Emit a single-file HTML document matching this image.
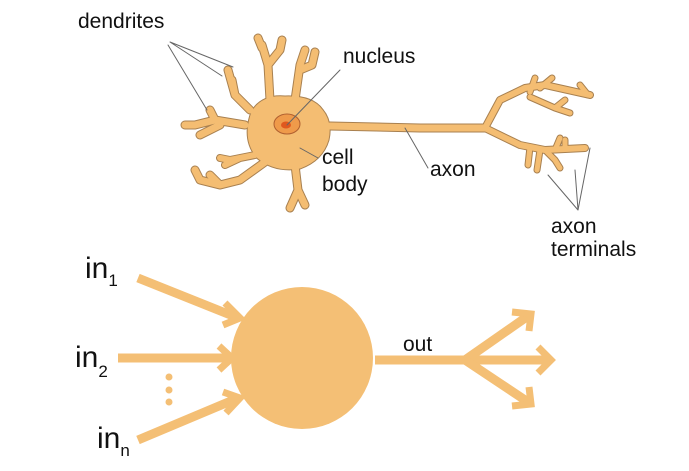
<!DOCTYPE html>
<html><head><style>
html,body{margin:0;padding:0;background:#fff;width:689px;height:471px;overflow:hidden}
text{font-family:"Liberation Sans",sans-serif;fill:#111}
</style></head><body>
<svg width="689" height="471" viewBox="0 0 689 471" xmlns="http://www.w3.org/2000/svg">
<g stroke-linecap="round" stroke-linejoin="round" fill="none">
 <g stroke="#a88050">
  <path d="M330,126 L420,128 L485,128" stroke-width="9"/>
  <path d="M485,128 L500,100 L525,88 L545,85 L590,95" stroke-width="8"/>
  <path d="M530,92 L535,78 M540,88 L552,78 M530,97 L555,108 L570,113 M555,108 L565,100 M588,95 L580,85" stroke-width="7"/>
  <path d="M485,128 L520,145 L545,150 L585,148" stroke-width="8"/>
  <path d="M530,147 L528,165 M545,150 L555,160 L560,168 M555,150 L560,138 M565,148 L565,140 M540,150 L537,170" stroke-width="7"/>
  <path d="M270,100 L268,65 L262,45 M268,65 L280,50 L282,40 M262,48 L258,38" stroke-width="9"/>
  <path d="M295,100 L300,65 L305,50 M300,70 L312,65 L315,52" stroke-width="9"/>
  <path d="M250,110 L235,95 L228,70 M235,95 L232,80" stroke-width="9"/>
  <path d="M245,125 L215,120 L195,125 L185,125 M215,120 L210,110 M220,125 L200,135" stroke-width="9"/>
  <path d="M255,155 L230,160 L220,158 M240,158 L225,165" stroke-width="8"/>
  <path d="M265,162 L240,180 L220,185 L200,180 M220,185 L210,175 M200,180 L195,170" stroke-width="9"/>
  <path d="M295,165 L298,190 L290,208 M298,190 L305,205" stroke-width="9"/>
  <path d="M252,112 Q262,95 285,97 Q312,96 322,110 Q332,122 328,140 Q322,160 300,168 Q275,172 258,158 Q242,140 252,112 Z" stroke-width="3" fill="#a88050"/>
 </g>
 <g stroke="#f4bd72">
  <path d="M330,126 L420,128 L485,128" stroke-width="7"/>
  <path d="M485,128 L500,100 L525,88 L545,85 L590,95" stroke-width="6"/>
  <path d="M530,92 L535,78 M540,88 L552,78 M530,97 L555,108 L570,113 M555,108 L565,100 M588,95 L580,85" stroke-width="5"/>
  <path d="M485,128 L520,145 L545,150 L585,148" stroke-width="6"/>
  <path d="M530,147 L528,165 M545,150 L555,160 L560,168 M555,150 L560,138 M565,148 L565,140 M540,150 L537,170" stroke-width="5"/>
  <path d="M270,100 L268,65 L262,45 M268,65 L280,50 L282,40 M262,48 L258,38" stroke-width="7"/>
  <path d="M295,100 L300,65 L305,50 M300,70 L312,65 L315,52" stroke-width="7"/>
  <path d="M250,110 L235,95 L228,70 M235,95 L232,80" stroke-width="7"/>
  <path d="M245,125 L215,120 L195,125 L185,125 M215,120 L210,110 M220,125 L200,135" stroke-width="7"/>
  <path d="M255,155 L230,160 L220,158 M240,158 L225,165" stroke-width="6"/>
  <path d="M265,162 L240,180 L220,185 L200,180 M220,185 L210,175 M200,180 L195,170" stroke-width="7"/>
  <path d="M295,165 L298,190 L290,208 M298,190 L305,205" stroke-width="7"/>
  <path d="M252,112 Q262,95 285,97 Q312,96 322,110 Q332,122 328,140 Q322,160 300,168 Q275,172 258,158 Q242,140 252,112 Z" stroke-width="1" fill="#f4bd72"/>
 </g>
 <ellipse cx="287" cy="124" rx="13" ry="10" fill="#ef9a4a" stroke="#b06030" stroke-width="1"/>
 <ellipse cx="286" cy="125" rx="5" ry="3.5" fill="#e0581e"/>
 <g stroke="#666" stroke-width="1">
  <path d="M170,42 L233,67 M170,42 L222,76 M168,45 L207,110"/>
  <path d="M340,70 L287,125"/>
  <path d="M318,158 L300,148"/>
  <path d="M428,168 L405,128"/>
  <path d="M578,210 L548,175 M578,210 L575,170 M578,210 L590,148"/>
 </g>
</g>
<g font-size="21">
<text x="78" y="28">dendrites</text>
<text x="343" y="63">nucleus</text>
<text x="322" y="164">cell</text>
<text x="322" y="191">body</text>
<text x="430" y="176">axon</text>
<text x="551" y="233">axon</text>
<text x="551" y="256">terminals</text>
<text x="403" y="351">out</text>
</g>
<g font-size="30">
<text x="85" y="278">in<tspan font-size="17" dy="8">1</tspan></text>
<text x="75" y="367">in<tspan font-size="17" dy="10">2</tspan></text>
<text x="97" y="448">in<tspan font-size="17" dy="8">n</tspan></text>
</g>
<g fill="#f4bf75">
 <circle cx="302" cy="358" r="71"/>
 <circle cx="169" cy="377" r="3.5"/><circle cx="169" cy="390" r="3.5"/><circle cx="169" cy="402" r="3.5"/>
</g>
<g stroke="#f4bf75" stroke-width="9" fill="none" stroke-linejoin="miter" stroke-linecap="butt">
 <path d="M138,278 L238,318"/>
 <path d="M118,358 L228,358"/>
 <path d="M138,440 L238,398"/>
 <path d="M375,360 L548,360"/>
 <path d="M465,360 L528,316"/>
 <path d="M465,360 L528,402"/>
 <path d="M225,303 L240,318 L223,325" stroke-width="7"/>
 <path d="M219,346 L232,358 L219,370" stroke-width="7"/>
 <path d="M223,392 L240,398 L226,413" stroke-width="7"/>
 <path d="M538,347 L551,360 L538,373" stroke-width="7"/>
 <path d="M512,312 L531,314 L529,331" stroke-width="7"/>
 <path d="M529,387 L531,404 L512,406" stroke-width="7"/>
</g>
</svg>
</body></html>
